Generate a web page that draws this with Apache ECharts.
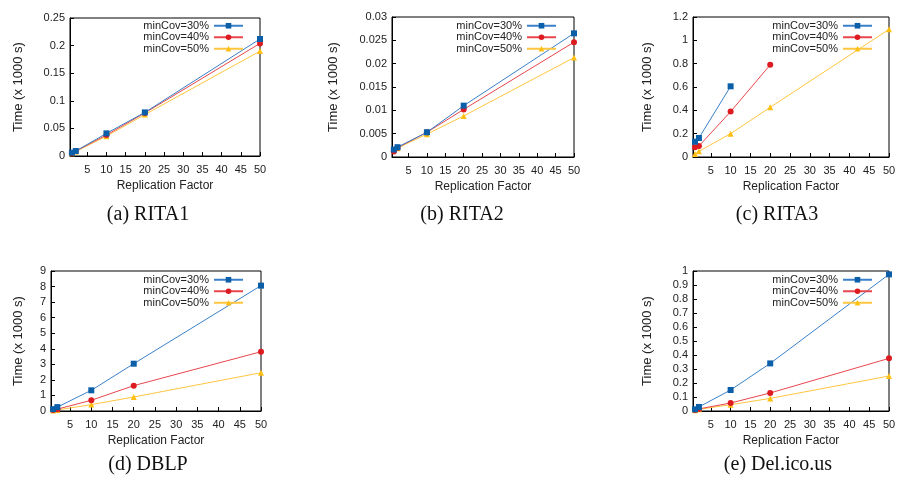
<!DOCTYPE html>
<html><head><meta charset="utf-8">
<script src="https://cdn.jsdelivr.net/npm/echarts@6/dist/echarts.min.js"></script>
<style>html,body{margin:0;padding:0;background:#fff}#c{width:899px;height:479px}</style>
</head><body><div id="c"></div>
<script>
// Data
const replicationFactors = [1, 2, 10, 20, 50];
const xTickLabels = [5, 10, 15, 20, 25, 30, 35, 40, 45, 50];
const seriesNames = ['minCov=30%', 'minCov=40%', 'minCov=50%'];
const captions = ['(a) RITA1', '(b) RITA2', '(c) RITA3', '(d) DBLP', '(e) Del.ico.us'];

const rita1_30 = [0.006, 0.009, 0.041, 0.079, 0.212];
const rita1_40 = [0.005, 0.009, 0.038, 0.078, 0.204];
const rita1_50 = [0.005, 0.008, 0.036, 0.075, 0.190];

const rita2_30 = [0.0016, 0.0021, 0.0053, 0.0110, 0.0265];
const rita2_40 = [0.0012, 0.0020, 0.0053, 0.0102, 0.0246];
const rita2_50 = [0.0014, 0.0019, 0.0049, 0.0088, 0.0213];

const rita3_30 = [0.131, 0.163, 0.606];
const rita3_40 = [0.083, 0.094, 0.389, 0.790];
const rita3_50 = [0.026, 0.049, 0.200, 0.426, 1.094];

const dblp_30 = [0.12, 0.25, 1.33, 3.04, 8.06];
const dblp_40 = [0.07, 0.12, 0.69, 1.63, 3.81];
const dblp_50 = [0.04, 0.07, 0.41, 0.90, 2.46];

const delicious_30 = [0.012, 0.029, 0.150, 0.340, 0.976];
const delicious_40 = [0.008, 0.015, 0.057, 0.129, 0.376];
const delicious_50 = [0.006, 0.012, 0.045, 0.090, 0.250];

const yRanges = [[0, 0.25, 0.05], [0, 0.03, 0.005], [0, 1.2, 0.2], [0, 9, 1], [0, 1, 0.1]];
const allData = [
  [rita1_30, rita1_40, rita1_50],
  [rita2_30, rita2_40, rita2_50],
  [rita3_30, rita3_40, rita3_50],
  [dblp_30, dblp_40, dblp_50],
  [delicious_30, delicious_40, delicious_50]
];

// Layout / style
const grids = [
  {left: 70, top: 18, width: 190, height: 138},
  {left: 392, top: 17, width: 182, height: 140},
  {left: 693, top: 17, width: 196, height: 140},
  {left: 51, top: 271, width: 210, height: 140},
  {left: 693, top: 271, width: 196, height: 140}
];
const yNameGaps = [45, 52, 39, 26, 39];
const legendPos = [
  {right: 650, top: 15}, {right: 337, top: 15}, {right: 21, top: 15},
  {right: 650, top: 269}, {right: 21, top: 269}
];
const captionPos = [[143, 200], [457, 200], [772, 200], [143, 450], [773, 450]];
const lineColors = ['#3a80c8', '#e8464c', '#ffc640'];
const markColors = ['#0a5fa8', '#dd1a20', '#ffbf10'];
const symbols = ['rect', 'circle', 'triangle'];
const symSizes = [6, 6, 6];
const FONT = 'Liberation Sans, Arial, sans-serif';

const option = {
  animation: false,
  backgroundColor: '#fff',
  title: captions.map((t, i) => ({
    text: t, left: captionPos[i][0], top: captionPos[i][1], textAlign: 'center',
    textStyle: {fontFamily: 'Liberation Serif, Times New Roman, serif', fontSize: 20, fontWeight: 'normal', color: '#111'}
  })),
  grid: grids.map(g => Object.assign({show: true, borderColor: '#000', borderWidth: 1, backgroundColor: 'transparent'}, g)),
  legend: legendPos.map((p, i) => Object.assign({
    data: seriesNames, orient: 'vertical', align: 'right', itemWidth: 29, itemHeight: 7,
    itemGap: 0, selectedMode: false,
    textStyle: {fontFamily: FONT, fontSize: 11, color: '#222', lineHeight: 11.5}
  }, p)),
  xAxis: grids.map((g, i) => ({
    gridIndex: i, type: 'value', min: 0.5, max: 50,
    name: 'Replication Factor', nameLocation: 'middle', nameGap: 24,
    nameTextStyle: {fontFamily: FONT, fontSize: 12, color: '#222'},
    axisLine: {lineStyle: {color: '#000', width: 1}},
    axisTick: {inside: true, length: 4, lineStyle: {color: '#000'}, customValues: xTickLabels},
    axisLabel: {fontFamily: FONT, fontSize: 11, color: '#222', margin: 8, customValues: xTickLabels},
    splitLine: {show: false}
  })),
  yAxis: grids.map((g, i) => ({
    gridIndex: i, type: 'value', min: yRanges[i][0], max: yRanges[i][1], interval: yRanges[i][2],
    name: 'Time (x 1000 s)', nameLocation: 'middle', nameGap: yNameGaps[i], nameRotate: 90,
    nameTextStyle: {fontFamily: FONT, fontSize: 13, color: '#222'},
    axisLine: {show: true, lineStyle: {color: '#000', width: 1}},
    axisTick: {show: true, inside: true, length: 4, lineStyle: {color: '#000'}},
    axisLabel: {fontFamily: FONT, fontSize: 11, color: '#222', margin: 5},
    splitLine: {show: false}
  })),
  series: []
};

allData.forEach((sets, gi) => {
  sets.forEach((vals, si) => {
    option.series.push({
      type: 'line', name: seriesNames[si], xAxisIndex: gi, yAxisIndex: gi,
      data: vals.map((v, k) => [replicationFactors[k], v]),
      symbol: symbols[si], symbolSize: symSizes[si], showSymbol: true,
      lineStyle: {color: lineColors[si], width: 1},
      itemStyle: {color: markColors[si]},
      z: 3 - si
    });
  });
});

const chart = echarts.init(document.getElementById('c'), null, {renderer: 'canvas'});
chart.setOption(option);
</script></body></html>
